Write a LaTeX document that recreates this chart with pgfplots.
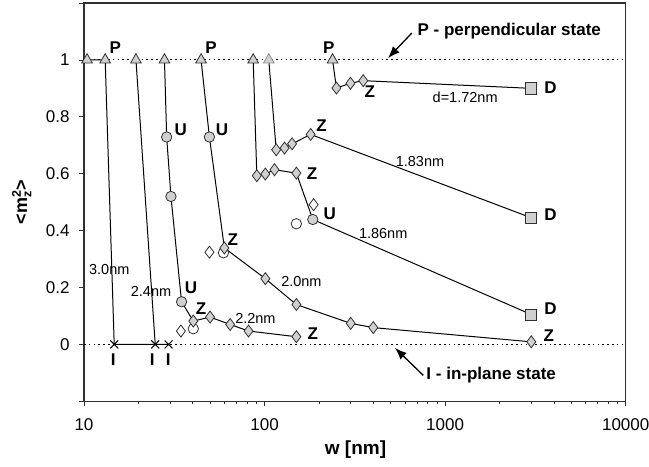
\documentclass[border=0pt]{standalone}
\usepackage{fontspec}
\setmainfont{Liberation Sans}
\usepackage{amsmath}
\usepackage{pgfplots}
\pgfplotsset{compat=1.18}
\usetikzlibrary{arrows.meta}

\definecolor{mfill}{HTML}{D0D0D0}
\definecolor{mline}{HTML}{303030}
\definecolor{lighttri}{HTML}{909090}

\tikzset{
  lab/.style={font=\fontsize{17}{20}\selectfont\bfseries},
  nm/.style={font=\fontsize{14.5}{16}\selectfont},
}

\begin{document}
\begin{tikzpicture}
\path[use as bounding box] (-84pt,-65pt) rectangle (565pt,401.3pt);
\begin{axis}[
  xmode=log,
  scale only axis, width=541.7pt, height=398.3pt,
  xmin=10, xmax=10000, ymin=-0.2, ymax=1.2,
  clip=false,
  axis line style={line width=1.1pt, draw=mline},
  xtick={10,100,1000,10000}, xticklabels={10,100,1000,10000},
  ytick={-0.2,0,0.2,0.4,0.6,0.8,1,1.2},
  yticklabels={{},0,0.2,0.4,0.6,0.8,1,{}},
  minor xtick={}, minor ytick={},
  xtick pos=bottom, ytick pos=left,
  tick align=outside, major tick length=5pt,
  tick style={draw=mline, line width=0.6pt},
  /pgf/number format/assume math mode=true,
  ticklabel style={font=\fontsize{17}{19}\selectfont},
  xticklabel style={yshift=-9pt},
  yticklabel style={xshift=-6pt},
  lin/.style={draw=black, line width=1pt, no marks},
  fmark/.style={only marks, mark options={draw=mline, fill=mfill, line width=0.8pt}},
  omark/.style={only marks, mark options={draw=mline, fill=white, line width=0.8pt}},
]
% reference levels
\addplot[no marks, draw=black, line width=1pt, dash pattern=on 1.6pt off 3.2pt] coordinates {(10,1) (10000,1)};
\addplot[no marks, draw=black, line width=1pt, dash pattern=on 1.6pt off 3.2pt] coordinates {(10,0) (10000,0)};

% open markers (drawn below)
\addplot[omark, mark=*, mark size=5.2pt] coordinates {(40.3,0.055) (59.2,0.322) (150,0.424)};
\addplot[omark, mark=diamond*, mark size=6pt] coordinates {(34.4,0.047) (49.5,0.324) (187,0.491)};

% series lines
\addplot[lin] coordinates {(10.4,1) (13.1,1) (14.7,0) (24.8,0) (29.4,0)};
\addplot[lin] coordinates {(19.4,1) (24.8,0)};
\addplot[lin] coordinates {(27.9,1) (28.7,0.729) (30.3,0.520) (34.7,0.150) (40.3,0.082) (49.9,0.096) (64.5,0.070) (81.5,0.047) (150,0.027)};
\addplot[lin] coordinates {(44.5,1) (49.5,0.729) (59.9,0.339) (101,0.231) (150,0.140) (300,0.074) (400,0.059) (3000,0.009)};
\addplot[lin] coordinates {(86.5,1) (90.6,0.593) (101,0.599) (113.5,0.614) (150,0.602) (185,0.439) (3000,0.105)};
\addplot[lin] coordinates {(105.5,1) (116,0.684) (129,0.690) (142,0.705) (180,0.738) (3000,0.445)};
\addplot[lin] coordinates {(238,1) (250,0.901) (299,0.918) (352,0.927) (3000,0.900)};

% filled markers
\addplot[fmark, mark=triangle*, mark size=6.2pt] coordinates {(10.4,1) (13.1,1) (19.4,1) (27.9,1) (44.5,1) (86.5,1) (238,1)};
\addplot[only marks, mark=triangle*, mark size=6.2pt, mark options={draw=lighttri, fill=mfill, line width=0.8pt}] coordinates {(105.5,1)};
\addplot[fmark, mark=*, mark size=5.2pt] coordinates {(28.7,0.729) (30.3,0.520) (34.7,0.150) (49.5,0.729) (185,0.439)};
\addplot[fmark, mark=diamond*, mark size=6pt] coordinates {
  (40.3,0.082) (49.9,0.096) (64.5,0.070) (81.5,0.047) (150,0.027)
  (59.9,0.339) (101,0.231) (150,0.140) (300,0.074) (400,0.059) (3000,0.009)
  (90.6,0.593) (101,0.599) (113.5,0.614) (150,0.602)
  (116,0.684) (129,0.690) (142,0.705) (180,0.738)
  (250,0.901) (299,0.918) (352,0.927)};
\addplot[fmark, mark=square*, mark size=5.6pt] coordinates {(3000,0.900) (3000,0.445) (3000,0.105)};
\addplot[only marks, mark=x, mark size=5.6pt, mark options={draw=black, line width=1pt}] coordinates {(14.7,0) (24.8,0) (29.4,0)};

% state labels
\node[lab] at (14.9,1.043) {P};
\node[lab] at (50.6,1.043) {P};
\node[lab] at (227,1.043) {P};
\node[lab] at (34.4,0.753) {U};
\node[lab] at (58.2,0.753) {U};
\node[lab] at (229.6,0.461) {U};
\node[lab] at (39.1,0.199) {U};
\node[lab] at (207,0.770) {Z};
\node[lab] at (183,0.599) {Z};
\node[lab] at (383,0.888) {Z};
\node[lab] at (66.7,0.368) {Z};
\node[lab] at (44.5,0.126) {Z};
\node[lab] at (185,0.038) {Z};
\node[lab] at (3750,0.032) {Z};
\node[lab] at (3830,0.903) {D};
\node[lab] at (3830,0.456) {D};
\node[lab] at (3830,0.126) {D};
\node[lab] at (14.5,-0.052) {I};
\node[lab] at (23.9,-0.052) {I};
\node[lab] at (29.3,-0.052) {I};

% thickness labels
\node[nm] at (13.8,0.264) {3.0nm};
\node[nm] at (23.5,0.187) {2.4nm};
\node[nm] at (89,0.093) {2.2nm};
\node[nm] at (160,0.220) {2.0nm};
\node[nm] at (726,0.642) {1.83nm};
\node[nm] at (454,0.390) {1.86nm};
\node[nm] at (1291,0.870) {d=1.72nm};

% annotations
\node[lab] at (2265,1.101) {P - perpendicular state};
\draw[-{Latex[length=12pt,width=9pt]}, line width=1.3pt] (653,1.094) -- (482,1.006);
\node[lab] at (1799,-0.107) {I - in-plane state};
\draw[-{Latex[length=12pt,width=9pt]}, line width=1.3pt] (757,-0.109) -- (527,-0.012);
\end{axis}
\node[rotate=90, font=\fontsize{18}{20}\selectfont\bfseries] at (-62.3pt,199.3pt)
  {<m$_{\text{\bfseries z}}^{\text{\bfseries 2}}$>};
\node[font=\fontsize{19}{22}\selectfont\bfseries] at (271.5pt,-48.5pt) {w [nm]};
\end{tikzpicture}
\end{document}
